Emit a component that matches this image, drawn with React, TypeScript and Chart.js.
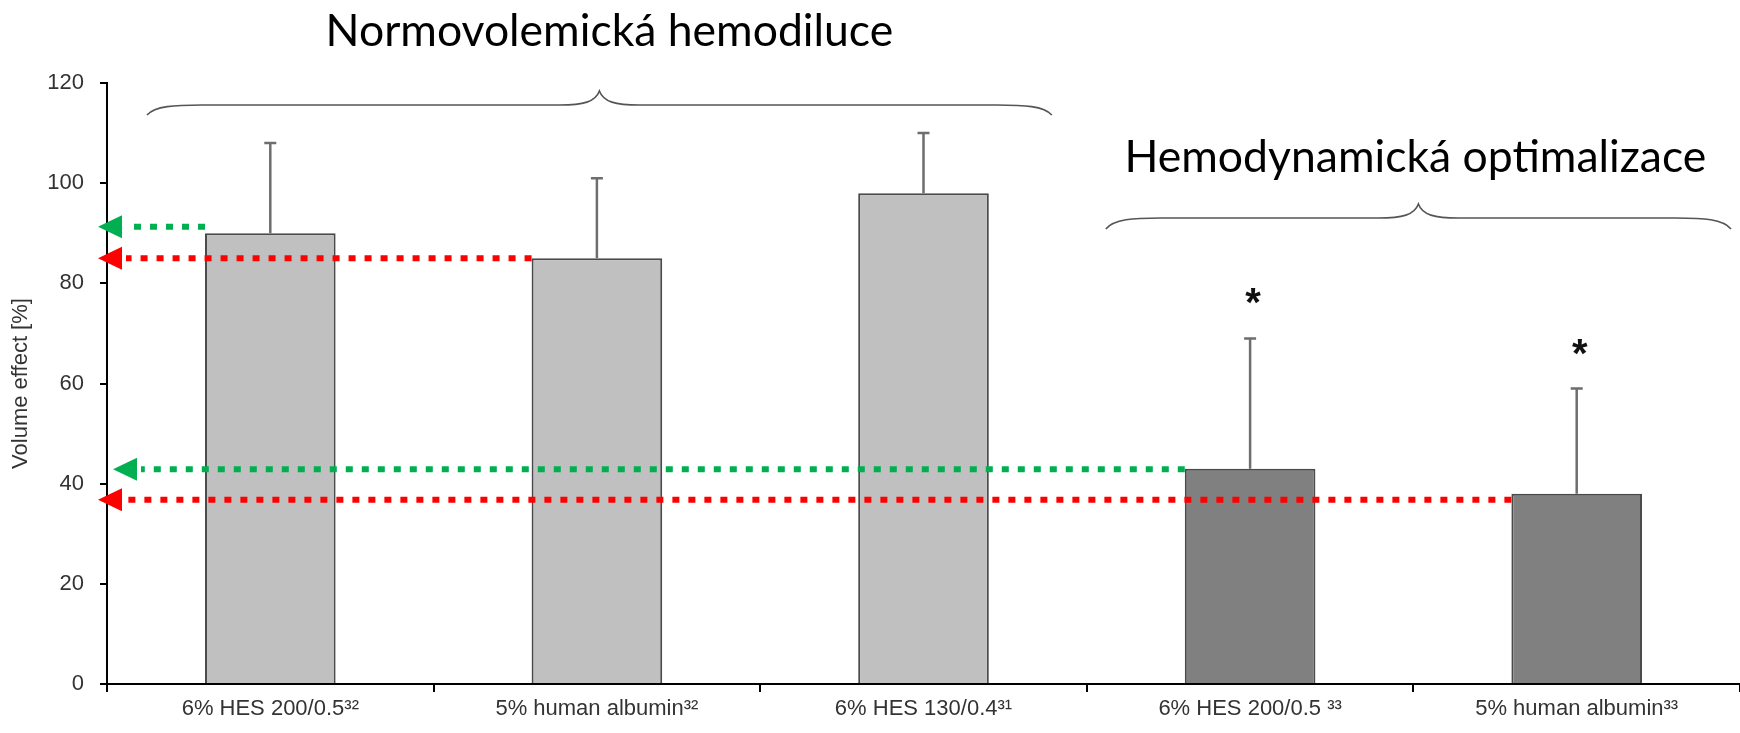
import React, { useEffect, useRef } from "react";
import { Chart, registerables } from "chart.js";

Chart.register(...registerables);

// Categories (with reference superscripts) and measured volume effect
const categories = [
  "6% HES 200/0.5³²",
  "5% human albumin³²",
  "6% HES 130/0.4³¹",
  "6% HES 200/0.5 ³³",
  "5% human albumin³³",
];
const volumeEffect = [90, 85, 98, 43, 38];
const volumeEffectSD = [18, 16, 12, 26, 21];
const significant = [false, false, false, true, true];
const yTickValues = [0, 20, 40, 60, 80, 100, 120];

// Study groups spanning category ranges
const groupTitles = ["Normovolemická hemodiluce", "Hemodynamická optimalizace"];
const groupFirst = [0, 3];
const groupLast = [2, 4];

// Dotted reference arrows drawn from a bar back to the y axis
const arrowLevels = [91.3, 85, 42.9, 36.8];
const arrowFromBar = [0, 1, 3, 4];

// Styling
const FONT = '"Liberation Sans", Arial, sans-serif';
const TITLE_FONT = 'Lato, "Open Sans", sans-serif';
const barFill = ["#c0c0c0", "#c0c0c0", "#c0c0c0", "#808080", "#808080"];
const arrowColors = ["#00B050", "#FF0000", "#00B050", "#FF0000"];
const arrowTipOffset = [-9, -9, 6, -9];
const groupStyle = [
  { tipY: 91, lineY: 105, endY: 115, padL: 40, padR: 35, titleY: 46, size: 44.5, shift: 10 },
  { tipY: 204, lineY: 218, endY: 229, padL: 19, padR: 9, titleY: 172, size: 44.5, shift: -3 },
];

function drawBrace(
  ctx: CanvasRenderingContext2D,
  x0: number,
  x1: number,
  tipY: number,
  lineY: number,
  endY: number
) {
  const xm = (x0 + x1) / 2;
  const endCurve = 55;
  const tipCurve = 40;
  ctx.beginPath();
  ctx.moveTo(x0, endY);
  ctx.bezierCurveTo(x0 + 8, lineY + 1, x0 + endCurve * 0.5, lineY, x0 + endCurve, lineY);
  ctx.lineTo(xm - tipCurve, lineY);
  ctx.bezierCurveTo(xm - tipCurve * 0.4, lineY, xm - 4, lineY - 3, xm, tipY);
  ctx.bezierCurveTo(xm + 4, lineY - 3, xm + tipCurve * 0.4, lineY, xm + tipCurve, lineY);
  ctx.lineTo(x1 - endCurve, lineY);
  ctx.bezierCurveTo(x1 - endCurve * 0.5, lineY, x1 - 8, lineY + 1, x1, endY);
  ctx.stroke();
}

const overlayPlugin = {
  id: "overlay",
  afterDatasetsDraw(chart: any) {
    const ctx: CanvasRenderingContext2D = chart.ctx;
    const xs = chart.scales.x;
    const ys = chart.scales.y;
    const bars = chart.getDatasetMeta(0).data;
    const slot = (xs.right - xs.left) / categories.length;

    ctx.save();

    // upper error bars
    ctx.strokeStyle = "#6e6e6e";
    ctx.lineWidth = 2.5;
    volumeEffect.forEach((v, i) => {
      const bar = bars[i];
      const yTop = ys.getPixelForValue(v + volumeEffectSD[i]);
      ctx.beginPath();
      ctx.moveTo(bar.x, bar.y);
      ctx.lineTo(bar.x, yTop);
      ctx.moveTo(bar.x - 6, yTop);
      ctx.lineTo(bar.x + 6, yTop);
      ctx.stroke();
      if (significant[i]) {
        ctx.fillStyle = "#111";
        ctx.font = `bold 40px ${FONT}`;
        ctx.textAlign = "center";
        ctx.textBaseline = "alphabetic";
        ctx.fillText("*", bar.x + 3, yTop - 44 + 22);
      }
    });

    // dotted arrows back to the y axis
    arrowLevels.forEach((lvl, k) => {
      const bar = bars[arrowFromBar[k]];
      const y = ys.getPixelForValue(lvl);
      const xStart = bar.x - bar.width / 2;
      const tipX = ys.right + arrowTipOffset[k];
      const headLen = 24;
      const color = arrowColors[k];
      ctx.strokeStyle = color;
      ctx.fillStyle = color;
      ctx.lineWidth = 6;
      ctx.lineCap = "butt";
      ctx.setLineDash([7, 9]);
      ctx.beginPath();
      ctx.moveTo(xStart, y);
      ctx.lineTo(tipX + headLen + 4, y);
      ctx.stroke();
      ctx.setLineDash([]);
      ctx.beginPath();
      ctx.moveTo(tipX, y);
      ctx.lineTo(tipX + headLen, y - 11.5);
      ctx.lineTo(tipX + headLen, y + 11.5);
      ctx.closePath();
      ctx.fill();
    });

    // group braces and titles
    groupTitles.forEach((title, g) => {
      const st = groupStyle[g];
      const x0 = xs.left + slot * groupFirst[g] + st.padL;
      const x1 = xs.left + slot * (groupLast[g] + 1) - st.padR;
      ctx.strokeStyle = "#555";
      ctx.lineWidth = 1.6;
      drawBrace(ctx, x0, x1, st.tipY, st.lineY, st.endY);
      ctx.fillStyle = "#000";
      ctx.font = `${st.size}px ${TITLE_FONT}`;
      ctx.textAlign = "center";
      ctx.textBaseline = "alphabetic";
      ctx.fillText(title, (x0 + x1) / 2 + st.shift, st.titleY);
    });

    ctx.restore();
  },
};

export default function App() {
  const canvasRef = useRef<HTMLCanvasElement | null>(null);

  useEffect(() => {
    if (!canvasRef.current) return;
    const chart = new Chart(canvasRef.current, {
      type: "bar",
      data: {
        labels: categories,
        datasets: [
          {
            data: volumeEffect,
            backgroundColor: barFill,
            borderColor: "#4a4a4a",
            borderWidth: 2,
            barPercentage: 0.4,
            categoryPercentage: 1,
          },
        ],
      },
      options: {
        responsive: false,
        animation: false,
        devicePixelRatio: 1,
        layout: { padding: { top: 83, right: 0, bottom: 0, left: 0 } },
        plugins: {
          legend: { display: false },
          tooltip: { enabled: false },
          title: { display: false },
        },
        scales: {
          x: {
            offset: true,
            grid: {
              offset: true,
              drawOnChartArea: false,
              drawTicks: true,
              tickLength: 8,
              color: "#000",
              lineWidth: 2,
            },
            border: { display: true, color: "#000", width: 2 },
            ticks: {
              color: "#333",
              font: { family: FONT, size: 22 },
              padding: 4,
              maxRotation: 0,
              autoSkip: false,
            },
            afterFit: (s: any) => {
              s.height = 49;
            },
          },
          y: {
            min: 0,
            max: 120,
            afterBuildTicks: (s: any) => {
              s.ticks = yTickValues.map((v) => ({ value: v }));
            },
            ticks: {
              color: "#333",
              font: { family: FONT, size: 22 },
              padding: 16,
            },
            grid: {
              drawOnChartArea: false,
              drawTicks: true,
              tickLength: 7,
              color: "#000",
              lineWidth: 2,
            },
            border: { display: true, color: "#000", width: 2 },
            title: {
              display: true,
              text: "Volume effect [%]",
              color: "#333",
              font: { family: FONT, size: 22 },
              padding: { top: 8, bottom: 0 },
            },
            afterFit: (s: any) => {
              s.width = 107;
            },
          },
        },
      },
      plugins: [overlayPlugin],
    });
    return () => chart.destroy();
  }, []);

  return (
    <div style={{ position: "absolute", left: 0, top: 0, width: 1740, height: 733, background: "#fff" }}>
      <canvas ref={canvasRef} width={1740} height={733} />
    </div>
  );
}
